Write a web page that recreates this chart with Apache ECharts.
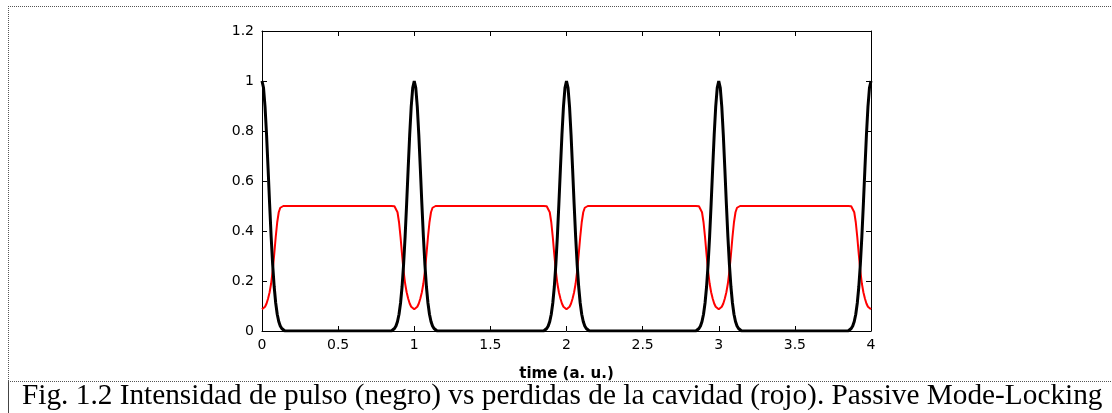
<!DOCTYPE html>
<html>
<head>
<meta charset="utf-8">
<script src="https://cdn.jsdelivr.net/npm/echarts@6/dist/echarts.min.js"></script>
<style>
  html, body { margin: 0; padding: 0; background: #fff; }
  #chart { width: 1112px; height: 413px; }
</style>
</head>
<body>
<div id="chart"></div>
<script>
// ---- Data ----
const timeValues = [
  0, 0.01, 0.02, 0.03, 0.04, 0.05, 0.06, 0.07, 0.08, 0.09, 0.10, 0.11, 0.12, 0.13, 0.14, 0.15,
  0.85, 0.86, 0.87, 0.88, 0.89, 0.90, 0.91, 0.92, 0.93, 0.94, 0.95, 0.96, 0.97, 0.98, 0.99, 1.00,
  1.01, 1.02, 1.03, 1.04, 1.05, 1.06, 1.07, 1.08, 1.09, 1.10, 1.11, 1.12, 1.13, 1.14, 1.15,
  1.85, 1.86, 1.87, 1.88, 1.89, 1.90, 1.91, 1.92, 1.93, 1.94, 1.95, 1.96, 1.97, 1.98, 1.99, 2.00,
  2.01, 2.02, 2.03, 2.04, 2.05, 2.06, 2.07, 2.08, 2.09, 2.10, 2.11, 2.12, 2.13, 2.14, 2.15,
  2.85, 2.86, 2.87, 2.88, 2.89, 2.90, 2.91, 2.92, 2.93, 2.94, 2.95, 2.96, 2.97, 2.98, 2.99, 3.00,
  3.01, 3.02, 3.03, 3.04, 3.05, 3.06, 3.07, 3.08, 3.09, 3.10, 3.11, 3.12, 3.13, 3.14, 3.15,
  3.85, 3.86, 3.87, 3.88, 3.89, 3.90, 3.91, 3.92, 3.93, 3.94, 3.95, 3.96, 3.97, 3.98, 3.99, 4.00
];

// Pulse intensity (black)
const pulseValues = [
  1, 0.973, 0.897, 0.784, 0.649, 0.509, 0.378, 0.266, 0.177, 0.112, 0.067, 0.038, 0.02, 0.01, 0.004, 0,
  0, 0.004, 0.01, 0.02, 0.038, 0.067, 0.112, 0.177, 0.266, 0.378, 0.509, 0.649, 0.784, 0.897, 0.973, 1,
  0.973, 0.897, 0.784, 0.649, 0.509, 0.378, 0.266, 0.177, 0.112, 0.067, 0.038, 0.02, 0.01, 0.004, 0,
  0, 0.004, 0.01, 0.02, 0.038, 0.067, 0.112, 0.177, 0.266, 0.378, 0.509, 0.649, 0.784, 0.897, 0.973, 1,
  0.973, 0.897, 0.784, 0.649, 0.509, 0.378, 0.266, 0.177, 0.112, 0.067, 0.038, 0.02, 0.01, 0.004, 0,
  0, 0.004, 0.01, 0.02, 0.038, 0.067, 0.112, 0.177, 0.266, 0.378, 0.509, 0.649, 0.784, 0.897, 0.973, 1,
  0.973, 0.897, 0.784, 0.649, 0.509, 0.378, 0.266, 0.177, 0.112, 0.067, 0.038, 0.02, 0.01, 0.004, 0,
  0, 0.004, 0.01, 0.02, 0.038, 0.067, 0.112, 0.177, 0.266, 0.378, 0.509, 0.649, 0.784, 0.897, 0.973, 1
];

// Cavity losses (red)
const lossValues = [
  0.087, 0.089, 0.097, 0.11, 0.13, 0.155, 0.19, 0.24, 0.305, 0.375, 0.435, 0.475, 0.493, 0.499, 0.5, 0.5,
  0.5, 0.5, 0.499, 0.493, 0.475, 0.435, 0.375, 0.305, 0.24, 0.19, 0.155, 0.13, 0.11, 0.097, 0.089, 0.087,
  0.089, 0.097, 0.11, 0.13, 0.155, 0.19, 0.24, 0.305, 0.375, 0.435, 0.475, 0.493, 0.499, 0.5, 0.5,
  0.5, 0.5, 0.499, 0.493, 0.475, 0.435, 0.375, 0.305, 0.24, 0.19, 0.155, 0.13, 0.11, 0.097, 0.089, 0.087,
  0.089, 0.097, 0.11, 0.13, 0.155, 0.19, 0.24, 0.305, 0.375, 0.435, 0.475, 0.493, 0.499, 0.5, 0.5,
  0.5, 0.5, 0.499, 0.493, 0.475, 0.435, 0.375, 0.305, 0.24, 0.19, 0.155, 0.13, 0.11, 0.097, 0.089, 0.087,
  0.089, 0.097, 0.11, 0.13, 0.155, 0.19, 0.24, 0.305, 0.375, 0.435, 0.475, 0.493, 0.499, 0.5, 0.5,
  0.5, 0.5, 0.499, 0.493, 0.475, 0.435, 0.375, 0.305, 0.24, 0.19, 0.155, 0.13, 0.11, 0.097, 0.089, 0.087
];

const xAxisName = 'time (a. u.)';
const captionText = 'Fig. 1.2 Intensidad de pulso (negro) vs perdidas de la cavidad (rojo). Passive Mode-Locking';
const xMin = 0, xMax = 4, xStep = 0.5;
const yMin = 0, yMax = 1.2, yStep = 0.2;

// ---- Chart ----
const pulseData = timeValues.map((t, i) => [t, pulseValues[i]]);
const lossData = timeValues.map((t, i) => [t, lossValues[i]]);

function labelFont() { return { fontFamily: 'DejaVu Sans', fontSize: 14, color: '#000' }; }
function frameLine() { return { show: true, onZero: false, lineStyle: { color: '#000', width: 1 } }; }
function tickIn() { return { show: true, inside: false, length: -5, lineStyle: { color: '#000', width: 1 } }; }

const chart = echarts.init(document.getElementById('chart'), null, { renderer: 'canvas' });
chart.setOption({
  animation: false,
  backgroundColor: '#fff',
  grid: { left: 262, right: 241, top: 31, bottom: 82, containLabel: false },
  xAxis: [
    {
      type: 'value', min: xMin, max: xMax, interval: xStep, position: 'bottom',
      axisLine: frameLine(), axisTick: tickIn(), splitLine: { show: false },
      axisLabel: Object.assign({ margin: 7 }, labelFont()),
      name: xAxisName, nameLocation: 'middle', nameGap: 36,
      nameTextStyle: { fontFamily: 'DejaVu Sans', fontSize: 15, fontWeight: 'bold', color: '#000' }
    },
    {
      type: 'value', min: xMin, max: xMax, interval: xStep, position: 'top',
      axisLine: frameLine(), axisTick: tickIn(), splitLine: { show: false },
      axisLabel: { show: false }
    }
  ],
  yAxis: [
    {
      type: 'value', min: yMin, max: yMax, interval: yStep, position: 'left',
      axisLine: frameLine(), axisTick: tickIn(), splitLine: { show: false },
      axisLabel: Object.assign({ margin: 8 }, labelFont())
    },
    {
      type: 'value', min: yMin, max: yMax, interval: yStep, position: 'right',
      axisLine: frameLine(), axisTick: tickIn(), splitLine: { show: false },
      axisLabel: { show: false }
    }
  ],
  series: [
    {
      name: 'loss', type: 'line', data: lossData, showSymbol: false, symbol: 'none',
      lineStyle: { color: '#ff0000', width: 2 }, z: 2, clip: true
    },
    {
      name: 'pulse', type: 'line', data: pulseData, showSymbol: false, symbol: 'none',
      lineStyle: { color: '#000000', width: 3 }, z: 3, clip: true
    }
  ],
  graphic: [
    { type: 'line', shape: { x1: 8, y1: 6.5, x2: 1112, y2: 6.5 }, style: { stroke: '#555', lineWidth: 1, lineDash: [1, 1] }, silent: true },
    { type: 'line', shape: { x1: 8.5, y1: 6, x2: 8.5, y2: 381 }, style: { stroke: '#555', lineWidth: 1, lineDash: [1, 1] }, silent: true },
    { type: 'line', shape: { x1: 8.5, y1: 381, x2: 8.5, y2: 413 }, style: { stroke: '#444', lineWidth: 1 }, silent: true },
    { type: 'line', shape: { x1: 8, y1: 381.5, x2: 1112, y2: 381.5 }, style: { stroke: '#555', lineWidth: 1, lineDash: [1, 1] }, silent: true },
    {
      type: 'text', left: 22, top: 382, silent: true,
      style: { text: captionText, font: '29.3px "Liberation Serif"', fill: '#000' }
    }
  ]
});
</script>
</body>
</html>
